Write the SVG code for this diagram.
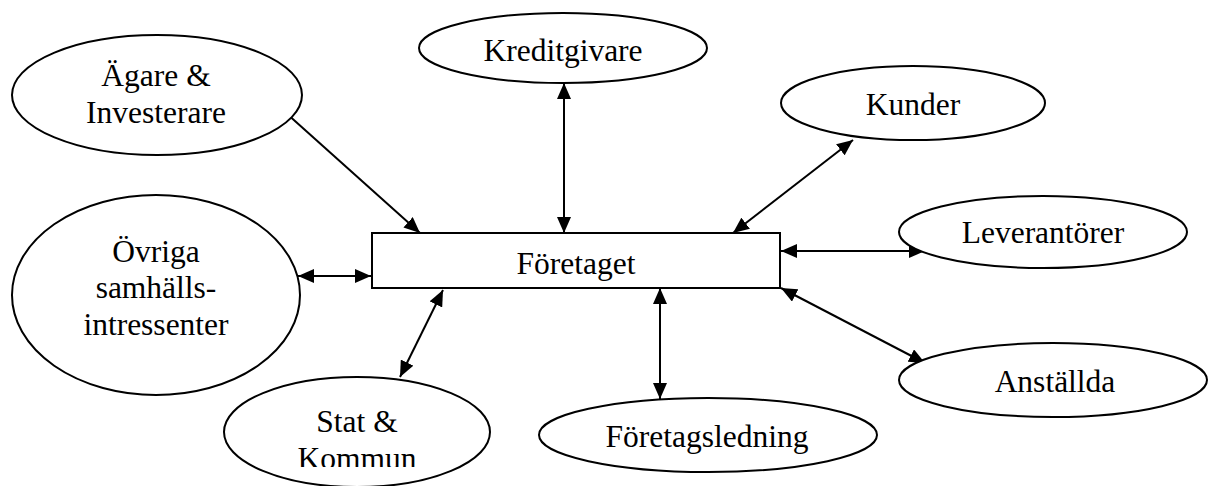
<svg xmlns="http://www.w3.org/2000/svg" width="1209" height="486" viewBox="0 0 1209 486">
<style>
.n{fill:#fff;stroke:#000;stroke-width:2}
.t{font-family:"Liberation Serif","Times New Roman",serif;font-size:31.5px;fill:#000;text-anchor:middle}
.c{stroke:#000;stroke-width:2;fill:none;marker-start:url(#ah);marker-end:url(#ah)}
</style>
<defs>
<marker id="ah" markerUnits="userSpaceOnUse" markerWidth="16" markerHeight="14" refX="16" refY="7" orient="auto-start-reverse" viewBox="0 0 16 14">
<path d="M0,0 L16,7 L0,14 z" fill="#000"/>
</marker>
<clipPath id="statclip"><rect x="200" y="370" width="320" height="97"/></clipPath>
</defs>
<rect width="1209" height="486" fill="#fff"/>
<g id="connectors">
<line class="c" x1="276" y1="104" x2="420" y2="233"/>
<line class="c" x1="564" y1="83" x2="564" y2="233"/>
<line class="c" x1="853" y1="140" x2="733" y2="233"/>
<line class="c" x1="298" y1="276" x2="371" y2="276"/>
<line class="c" x1="781" y1="251" x2="925" y2="251"/>
<line class="c" x1="781" y1="288" x2="925" y2="363"/>
<line class="c" x1="443" y1="290" x2="400" y2="377"/>
<line class="c" x1="660" y1="288" x2="660" y2="399"/>
</g>
<g id="foretaget">
<rect class="n" x="372" y="233" width="408" height="55"/>
<text class="t" x="576" y="274">Företaget</text>
</g>
<g id="agare">
<ellipse class="n" cx="157" cy="95" rx="145" ry="60"/>
<text class="t" x="156" y="86">Ägare &amp;</text>
<text class="t" x="156" y="123">Investerare</text>
</g>
<g id="kreditgivare">
<ellipse class="n" cx="563" cy="48" rx="144" ry="35"/>
<text class="t" x="563" y="61">Kreditgivare</text>
</g>
<g id="kunder">
<ellipse class="n" cx="913" cy="103" rx="132" ry="37"/>
<text class="t" x="913" y="115">Kunder</text>
</g>
<g id="ovriga">
<ellipse class="n" cx="156" cy="295" rx="144" ry="100"/>
<text class="t" x="156" y="262">Övriga</text>
<text class="t" x="156" y="298">samhälls-</text>
<text class="t" x="156" y="335">intressenter</text>
</g>
<g id="leverantorer">
<ellipse class="n" cx="1043" cy="232" rx="144" ry="36"/>
<text class="t" x="1043" y="243">Leverantörer</text>
</g>
<g id="anstallda">
<ellipse class="n" cx="1053" cy="380" rx="154" ry="37"/>
<text class="t" x="1055" y="392">Anställda</text>
</g>
<g id="foretagsledning">
<ellipse class="n" cx="708" cy="435" rx="169" ry="37"/>
<text class="t" x="707" y="447">Företagsledning</text>
</g>
<g id="stat">
<ellipse class="n" cx="357" cy="432" rx="133" ry="55"/>
<text class="t" x="357" y="432">Stat &amp;</text>
<text class="t" x="357" y="469" clip-path="url(#statclip)">Kommun</text>
</g>
</svg>
